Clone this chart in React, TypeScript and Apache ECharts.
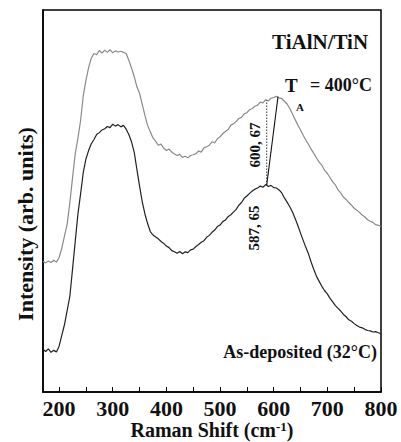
import React, { useEffect, useRef } from "react";
import * as echarts from "echarts";

// Raman shift sampling grid (cm-1): 170, 175, ... 800
const shiftStart = 170;
const shiftStep = 5;

// T_A = 400 °C spectrum (grey, upper), arbitrary units
const annealed400 = [
  34.2, 33.8, 34.3, 33.9, 34.5, 34.0, 35.2, 37.6, 40.8, 43.9,
  49.5, 56.0, 62.3, 66.4, 71.0, 77.5, 81.6, 84.9, 87.4, 88.6,
  88.3, 89.4, 88.7, 89.5, 88.9, 89.6, 88.8, 89.3, 89.0, 89.2,
  88.9, 88.6, 86.8, 84.8, 82.6, 79.9, 78.2, 75.3, 72.4, 69.8,
  68.1, 66.5, 65.6, 64.6, 64.9, 63.8, 63.2, 63.6, 62.8, 62.3,
  61.9, 62.2, 61.4, 61.7, 61.3, 61.9, 62.1, 62.4, 63.1, 62.8,
  63.9, 64.2, 64.6, 65.5, 65.2, 66.3, 66.8, 67.6, 68.2, 68.7,
  69.8, 70.2, 70.8, 71.6, 71.9, 72.8, 73.1, 73.9, 74.2, 74.8,
  75.1, 75.9, 75.7, 76.5, 76.2, 76.9, 77.1, 77.4, 77.0, 76.8,
  76.1, 75.4, 74.2, 72.8, 71.3, 69.9, 68.6, 67.2, 65.9, 64.8,
  63.5, 62.4, 61.2, 60.1, 59.3, 58.0, 57.2, 56.1, 55.0, 54.2,
  52.9, 52.1, 51.0, 50.4, 49.6, 48.9, 48.1, 47.6, 47.0, 46.3,
  45.8, 45.1, 44.7, 44.4, 43.8, 43.6, 43.4,
];

// As-deposited (32 °C) spectrum (black, lower)
const asDeposited = [
  11.2, 10.6, 11.3, 10.4, 10.9, 10.5, 12.0, 14.8, 17.6, 21.3,
  25.0, 32.1, 39.3, 46.5, 51.8, 57.4, 61.0, 63.2, 65.0, 66.1,
  67.4, 67.9, 68.6, 68.9, 69.5, 69.2, 70.1, 69.6, 70.0, 69.4,
  69.8, 68.8, 67.4, 65.5, 62.8, 58.3, 53.9, 49.8, 46.6, 44.1,
  42.0, 41.1, 40.6, 40.1, 39.4, 38.9, 38.2, 37.8, 37.0, 36.7,
  36.3, 36.8, 36.2, 36.7, 36.5, 37.2, 37.4, 38.1, 38.6, 39.2,
  39.6, 40.5, 41.0, 41.8, 42.4, 43.3, 43.7, 44.6, 45.0, 45.9,
  46.4, 47.1, 47.8, 48.9, 49.6, 50.7, 51.3, 52.0, 52.6, 53.1,
  53.4, 53.9, 53.6, 54.3, 53.8, 54.1, 53.5, 53.4, 52.9, 52.1,
  50.8, 49.7, 48.5, 47.1, 45.4, 43.6, 41.6, 39.7, 37.8, 36.1,
  33.9, 32.0, 30.2, 28.9, 27.6, 26.5, 25.7, 24.5, 23.6, 22.6,
  21.9, 21.2, 20.3, 19.7, 18.9, 18.5, 17.9, 17.4, 17.0, 16.8,
  16.4, 16.1, 16.0, 15.7, 15.8, 15.5, 15.3,
];

const xTickLabels = [200, 300, 400, 500, 600, 700, 800];
const xTickMarks = [200, 250, 300, 350, 400, 450, 500, 550, 600, 650, 700, 750, 800];

// peak guides: dotted vertical from the as-deposited peak, solid to the annealed peak
const dottedGuide = [
  [587, 54.2],
  [587, 76.4],
];
const peakShiftGuide = [
  [587, 54.2],
  [608, 77.3],
];

const FONT = "Liberation Serif, Times New Roman, serif";

function pairs(values: number[]) {
  return values.map((v, i) => [shiftStart + i * shiftStep, v]);
}

export default function App() {
  const ref = useRef<HTMLDivElement>(null);
  useEffect(() => {
    const chart = echarts.init(ref.current!, null, { renderer: "svg" });
    const txt = (
      text: string,
      x: number,
      y: number,
      size: number,
      align: string = "left",
      rotation = 0
    ) => ({
      type: "text",
      x,
      y,
      rotation,
      style: {
        text,
        fontFamily: FONT,
        fontWeight: "bold",
        fontSize: size,
        fill: "#111",
        align,
        verticalAlign: "middle",
      },
    });
    chart.setOption({
      animation: false,
      backgroundColor: "#fff",
      grid: {
        left: 43,
        right: 20,
        top: 10,
        bottom: 50,
        show: true,
        borderColor: "#000",
        borderWidth: 1.5,
        backgroundColor: "transparent",
      },
      xAxis: {
        type: "value",
        min: 170,
        max: 800,
        axisLine: { show: true, lineStyle: { color: "#000", width: 1.5 } },
        axisTick: {
          show: true,
          inside: true,
          length: 5,
          customValues: xTickMarks,
          lineStyle: { color: "#000", width: 1 },
        },
        axisLabel: {
          customValues: xTickLabels,
          fontFamily: FONT,
          fontWeight: "bold",
          fontSize: 22,
          color: "#111",
          margin: 5,
          showMaxLabel: true,
          showMinLabel: true,
        },
        splitLine: { show: false },
      },
      yAxis: {
        type: "value",
        min: 0,
        max: 100,
        axisLine: { show: true, lineStyle: { color: "#000", width: 1.5 } },
        axisTick: { show: false },
        axisLabel: { show: false },
        splitLine: { show: false },
      },
      series: [
        {
          type: "line",
          data: pairs(annealed400),
          showSymbol: false,
          lineStyle: { color: "#8a8a8a", width: 1.2 },
        },
        {
          type: "line",
          data: pairs(asDeposited),
          showSymbol: false,
          lineStyle: { color: "#222", width: 1.2 },
        },
        {
          type: "line",
          data: dottedGuide,
          showSymbol: false,
          lineStyle: { color: "#333", width: 1, type: [1.5, 1.5] },
        },
        {
          type: "line",
          data: peakShiftGuide,
          showSymbol: false,
          lineStyle: { color: "#111", width: 1.1 },
        },
      ],
      graphic: [
        txt("TiAlN/TiN", 272, 42, 21),
        txt("T", 285, 85, 19),
        txt("A", 296, 107, 11),
        txt("= 400°C", 310, 85, 18),
        txt("600, 67", 255, 145, 15, "center", Math.PI / 2),
        txt("587, 65", 254, 228, 15, "center", Math.PI / 2),
        txt("As-deposited (32°C)", 377, 352, 18, "right"),
        txt("Intensity (arb. units)", 25, 224, 22, "center", Math.PI / 2),
        {
          type: "text",
          x: 212,
          y: 430,
          style: {
            text: "{n|Raman Shift (cm}{s|-1}{n|)}",
            align: "center",
            verticalAlign: "middle",
            fill: "#111",
            rich: {
              n: {
                fontFamily: FONT,
                fontWeight: "bold",
                fontSize: 20,
                lineHeight: 20,
                fill: "#111",
                verticalAlign: "bottom",
              },
              s: {
                fontFamily: FONT,
                fontWeight: "bold",
                fontSize: 13,
                lineHeight: 20,
                fill: "#111",
                verticalAlign: "top",
              },
            },
          },
        },
      ],
    });
    return () => chart.dispose();
  }, []);
  return (
    <div
      ref={ref}
      style={{ position: "fixed", left: 0, top: 0, width: 401, height: 442 }}
    />
  );
}
